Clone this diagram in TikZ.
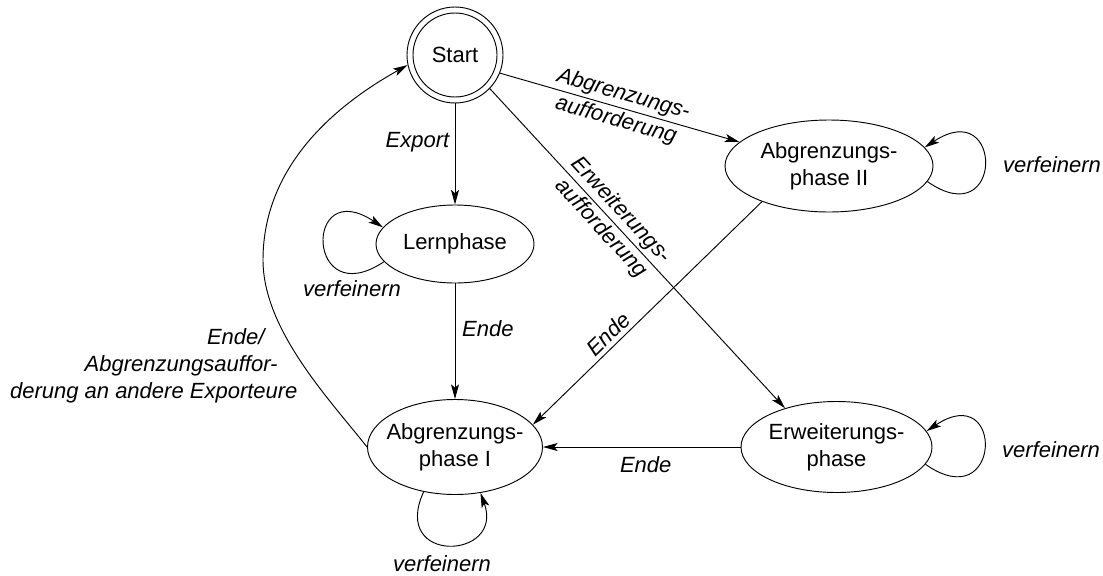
\documentclass[tikz,border=0pt]{standalone}
\usepackage{fontspec}
\setmainfont{Liberation Sans}
\usetikzlibrary{arrows.meta,shapes.geometric}
\begin{document}
\begin{tikzpicture}[x=0.75pt,y=-0.75pt,line width=0.7pt,
  font=\fontsize{16.5}{20.25}\selectfont,
  state/.style={ellipse,draw,inner xsep=-8pt,inner ysep=0pt,align=center},
  tr/.style={-{Stealth[length=11pt,width=6pt,inset=2.5pt]}},
  lbl/.style={font=\fontsize{16.5}{20.25}\selectfont\itshape,inner sep=2pt},
]
\useasboundingbox (0,0) rectangle (1103,575);

% states
\node[circle,draw,minimum size=72pt,inner sep=0pt] (Start) at (455,55) {Start};
\draw (Start.center) circle[radius=31.5pt];
\node[state,minimum width=118.5pt,minimum height=58.5pt] (Lern) at (455,244) {Lernphase};
\node[state,minimum width=156pt,minimum height=69pt] (AbgrII) at (829,166) {Abgrenzungs-\\phase II};
\node[state,minimum width=131.25pt,minimum height=71.25pt] (AbgrI) at (455,447) {Abgrenzungs-\\phase I};
\node[state,minimum width=143.25pt,minimum height=68.25pt] (Erw) at (836.5,447) {Erweiterungs-\\phase};

% transitions
\draw[tr] (Start) -- node[lbl,left=2pt,pos=0.385] {Export} (Lern);
\draw[tr] (Lern) -- node[lbl,right=3pt,pos=0.395] {Ende} (AbgrI);
\draw[tr] (Start.-22) -- node[lbl,sloped,align=center] {Abgrenzungs-\\aufforderung} (AbgrII.165);
\draw[tr] (Start.-44) -- node[lbl,sloped,align=center,pos=0.41] {Erweiterungs-\\aufforderung} (Erw.143);
\draw[tr] (AbgrII.208) -- node[lbl,sloped,above=1pt,pos=0.633] {Ende} (AbgrI.16);
\draw[tr] (Erw) -- node[lbl,below=5pt,pos=0.48] {Ende} (AbgrI);
\draw[tr] (AbgrI.west) .. controls (330,400) and (263,330) .. (263,260)
  .. controls (263,160) and (345,100) .. (Start.192);
\node[lbl,align=right,anchor=east,inner sep=0pt] (backLbl) at (298,366)
  {Ende/\kern24.75pt\\Abgrenzungsauffor-\kern15pt\\derung an andere Exporteure};

% refinement loops
\draw[tr] (Lern.194) .. controls (306,314) and (303,174) .. (Lern.167);
\draw[tr] (AbgrII.-9) .. controls (1004,235) and (1004,95) .. (AbgrII.11);
\draw[tr] (Erw.-11) .. controls (1002,518) and (1005,379) .. (Erw.10);
\draw[tr] (AbgrI.235) .. controls (390,565) and (505,560) .. (AbgrI.-61);

\node[lbl] (vLern) at (352,289) {verfeinern};
\node[lbl] (vAbgrII) at (1052,165) {verfeinern};
\node[lbl] (vErw) at (1051,450) {verfeinern};
\node[lbl] (vAbgrI) at (442,564) {verfeinern};
\end{tikzpicture}
\end{document}
